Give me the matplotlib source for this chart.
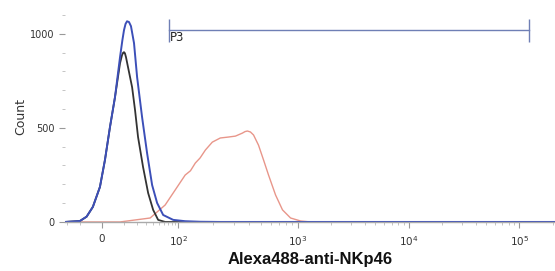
import numpy as np
import matplotlib.pyplot as plt

# --- dane (fluorescencja, liczba zdarzeń) ---
blue_x = [-22, -10, -6.2, -3.3, -0.65, 0.99, 2.87, 5.07, 7.65, 9.0, 10.0, 11.0, 12.0, 13.4,
          14.9, 17.4, 20.2, 25.3, 31.3, 38.4, 46.6, 58.5, 83.9, 115, 156, 230, 2.1e5]
blue_y = [0, 5, 28, 80, 186, 329, 504, 663, 875, 965, 1019, 1052, 1066, 1062,
          1040, 950, 769, 557, 366, 196, 101, 37, 11, 4, 1, 0, 0]

black_x = [-22, -10, -6.2, -3.3, -0.65, 0.99, 2.87, 5.07, 7.65, 8.79, 9.4, 10.0, 10.6, 11.3,
           12.7, 15.8, 18.3, 21.1, 26.4, 32.7, 40.0, 48.5, 62.9, 2.1e5]
black_y = [0, 5, 28, 80, 186, 329, 504, 663, 843, 886, 898, 902, 896, 875,
           822, 716, 594, 451, 292, 154, 64, 11, 0, 0]

red_x = [-22, 7.65, 35.5, 62.9, 90, 115, 128, 141, 155, 172, 197, 230, 269, 308,
         352, 370, 387, 410, 435, 478, 526, 578, 660, 752, 875, 1064, 1312, 2.1e5]
red_y = [0, 0, 21, 90, 170, 249, 272, 313, 340, 382, 424, 446, 451, 456,
         472, 480, 483, 478, 462, 408, 329, 249, 143, 64, 21, 5, 0, 0]

gate_x = [72.8, 1.23e5]
gate_y = 1018

major_x = [0, 1e2, 1e3, 1e4, 1e5]
major_x_labels = ['0', r'$10^2$', r'$10^3$', r'$10^4$', r'$10^5$']
minor_x = ([-20, -10] + list(range(10, 100, 10)) + list(range(200, 1000, 100))
           + list(range(2000, 10000, 1000)) + list(range(20000, 100000, 10000)) + [200000])

# --- skala typu "logicle" (liniowa przy zerze, logarytmiczna dalej) ---
TA = [-3, 0, 1.041, 2.004, 3.0, 4.0, 6.0]
PA = [-219, 0, 76, 195, 306, 416, 636]


def forward(x):
    x = np.asarray(x, dtype=float)
    t = np.sign(x) * np.log10(1 + np.abs(x) / 10)
    return np.interp(t, TA, PA)


def inverse(p):
    t = np.interp(np.asarray(p, dtype=float), PA, TA)
    return np.sign(t) * 10 * (10 ** np.abs(t) - 1)


fig = plt.figure(figsize=(5.55, 2.71), dpi=100)
ax = fig.add_axes([0.117, 0.181, 0.883, 0.778])
ax.set_xscale('function', functions=(forward, inverse))

ax.plot(red_x, red_y, color='#e8968a', linewidth=1.0)
ax.plot(black_x, black_y, color='#333333', linewidth=1.3, solid_joinstyle='round')
ax.plot(blue_x, blue_y, color='#3c4fb8', linewidth=1.4, solid_joinstyle='round')

# bramka P3
gate_col = '#6f7fb5'
ax.plot(gate_x, [gate_y, gate_y], color=gate_col, linewidth=1.0)
ax.vlines(gate_x, gate_y - 60, gate_y + 60, color=gate_col, linewidth=1.0)
ax.text(gate_x[0] * 1.02, gate_y - 5, 'P3', fontsize=8.5, va='top', ha='left', color='#222222')

ax.set_xlim(-22, 2.1e5)
ax.set_ylim(0, 1120)

ax.set_xticks(major_x)
ax.set_xticklabels(major_x_labels, fontsize=7.5, color='#333333')
ax.set_xticks(minor_x, minor=True)
ax.set_yticks([0, 500, 1000])
ax.set_yticklabels(['0', '500', '1000'], fontsize=7, color='#333333')
ax.set_yticks(range(100, 1200, 100), minor=True)

ax.tick_params(axis='both', which='major', length=4, width=0.8, color='#999999')
ax.tick_params(axis='both', which='minor', length=2.5, width=0.6, color='#bbbbbb')
ax.tick_params(axis='x', which='both', pad=5)

for s in ['top', 'right', 'left']:
    ax.spines[s].set_visible(False)
ax.spines['bottom'].set_color('#aaaaaa')
ax.spines['bottom'].set_linewidth(1.0)

ax.set_ylabel('Count', fontsize=9, color='#333333', labelpad=2)
ax.set_xlabel('Alexa488-anti-NKp46', fontsize=12, fontweight='bold',
              family='Liberation Sans', color='#111111', labelpad=3)

fig.savefig('out.png', dpi=100)
